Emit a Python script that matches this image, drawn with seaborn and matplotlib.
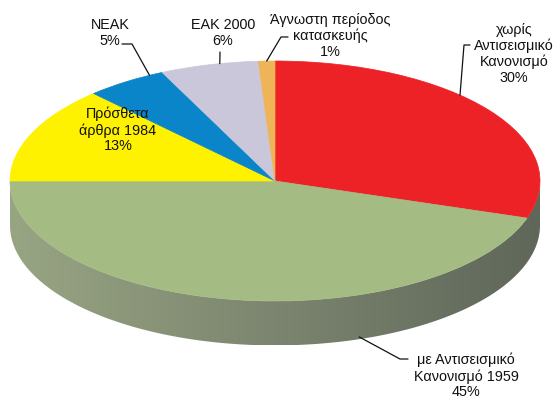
import matplotlib.pyplot as plt
import seaborn as sns
import numpy as np
from matplotlib.colors import LinearSegmentedColormap
from matplotlib.patches import Polygon

labels = ['χωρίς\nΑντισεισμικό\nΚανονισμό', 'με Αντισεισμικό\nΚανονισμό 1959', 'Πρόσθετα\nάρθρα 1984',
          'ΝΕΑΚ', 'ΕΑΚ 2000', 'Άγνωστη περίοδος\nκατασκευής']
values = [30, 45, 13, 5, 6, 1]
colors = ['#ec2227', '#a5bb84', '#fff200', '#0a85c9', '#c9c7d9', '#f0b458']

sns.set_theme(style='white')
plt.rcParams['font.family'] = ['Liberation Sans', 'DejaVu Sans']

# geometry of the tilted pie, in pixels of the 554x402 picture
CX, CY, RX, RY = 275, 182, 265, 120
DEPTH = 0.37


def px(x, y):
    return (x - CX) / RX, (CY - y) / RY


# label layout: text centre (px), anchor fraction along wedge, drop onto side, elbow points (px)
text_pos = [(514, 54), (466, 376), (118, 130), (110, 33), (223, 33), (330, 36)]
leaders = [
    (0.41, 0.0, [(464, 46), (470, 46)]),
    (0.33, 0.95, [(400, 360), (408, 360)]),
    None,
    (0.83, 0.0, [(132, 45), (122, 45)]),
    (0.61, 0.0, [(220, 53)]),
    (0.5, 0.0, [(281, 38), (288, 38)]),
]

fig = plt.figure(figsize=(5.54, 4.02), dpi=100)
ax = fig.add_axes([0, 0, 1, 1])

# side of the disc, with a light-to-dark shading
t = np.linspace(np.pi, 2 * np.pi, 300)
band = np.concatenate([np.c_[np.cos(t), np.sin(t)],
                       np.c_[np.cos(t[::-1]), np.sin(t[::-1]) - DEPTH]])
clip = Polygon(band, closed=True, transform=ax.transData, facecolor='none', edgecolor='none')
ax.add_patch(clip)
side_cmap = LinearSegmentedColormap.from_list('side', ['#98a583', '#7c856f', '#5e6759'])
grad = np.linspace(0, 1, 256).reshape(1, -1)
im = ax.imshow(grad, cmap=side_cmap, extent=(-1, 1, -1 - DEPTH, 0), aspect='auto', zorder=1)
im.set_clip_path(clip)

wedges, _ = ax.pie(values, colors=colors, startangle=90, counterclock=False, radius=1,
                   wedgeprops=dict(linewidth=0.5))
for w, c in zip(wedges, colors):
    w.set_edgecolor(c)
    w.set_zorder(2)

ax.set_aspect('auto')
ax.set_xlim(-CX / RX, (554 - CX) / RX)
ax.set_ylim((CY - 402) / RY, CY / RY)
ax.axis('off')

total = sum(values)
cum = np.concatenate([[0], np.cumsum(values)]) / total * 360

for i, (lab, v) in enumerate(zip(labels, values)):
    tx, ty = px(*text_pos[i])
    ax.text(tx, ty, f'{lab}\n{v}%', ha='center', va='center', multialignment='center',
            fontsize=10.4, color='#111111', linespacing=1.15, zorder=4)
    if leaders[i] is None:
        continue
    frac, drop, elbows = leaders[i]
    a = np.deg2rad(90 - (cum[i] + frac * (cum[i + 1] - cum[i])))
    xs = [np.cos(a)]
    ys = [np.sin(a) - drop * DEPTH]
    for ex, ey in elbows:
        dx, dy = px(ex, ey)
        xs.append(dx)
        ys.append(dy)
    ax.plot(xs, ys, color='#111111', lw=0.9, zorder=3)

fig.savefig('out.png', dpi=100)
